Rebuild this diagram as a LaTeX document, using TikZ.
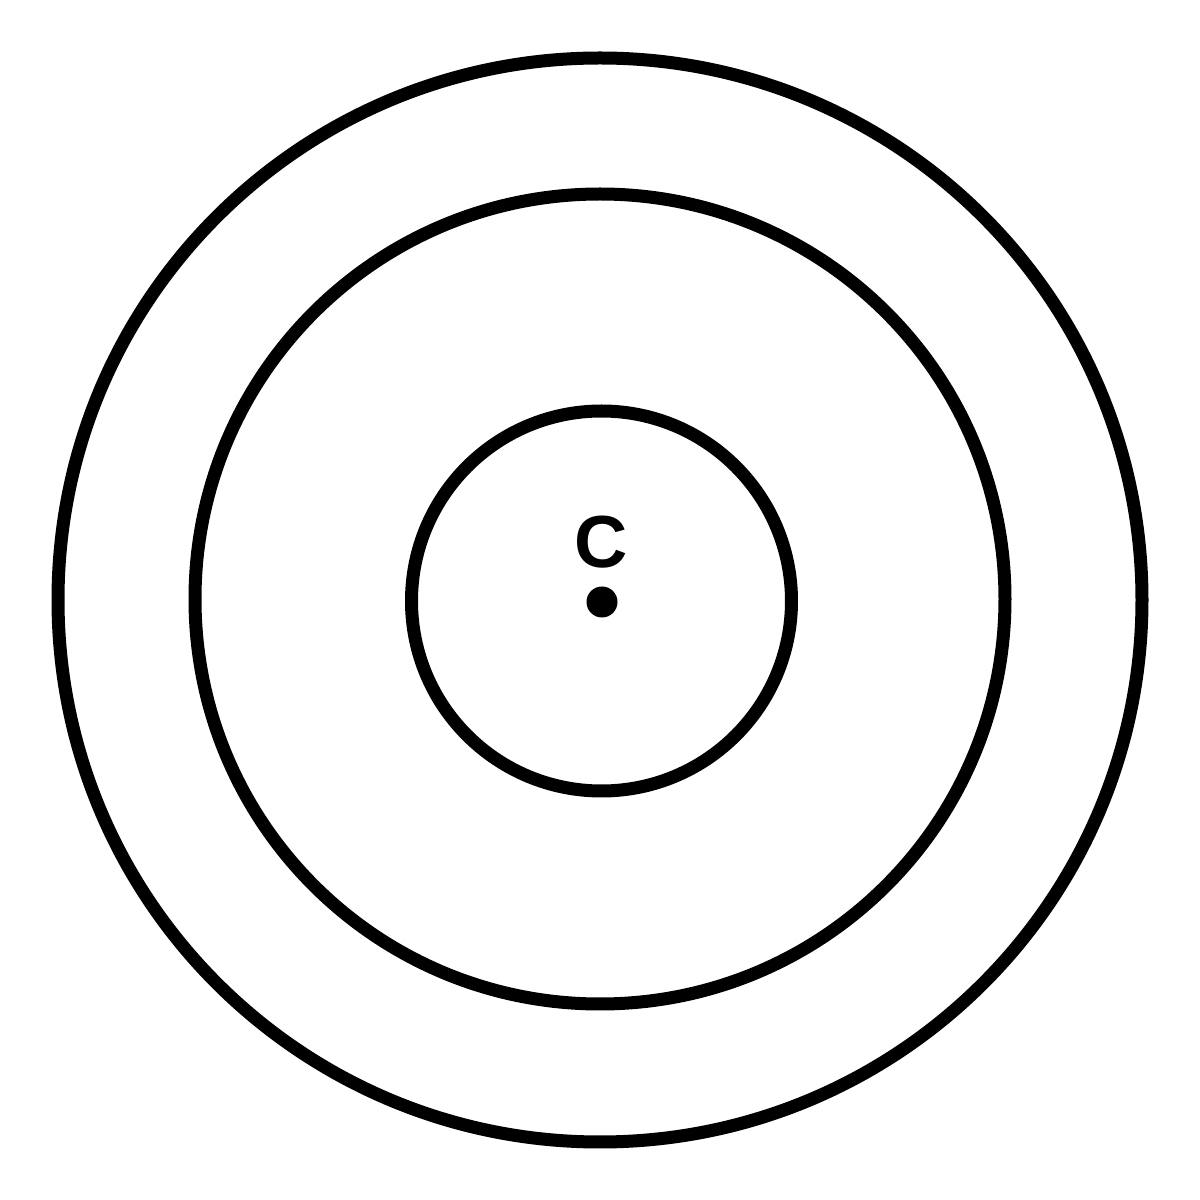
\documentclass[tikz,border=0pt]{standalone}
\usepackage{fontspec}
\setmainfont{Liberation Sans}
\begin{document}
\begin{tikzpicture}[x=1cm,y=1cm,
  ring/.style={draw=black, line width=0.13cm},
  centerdot/.style={circle, fill=black, inner sep=0pt, minimum size=0.31cm},
  lbl/.style={font=\bfseries\fontsize{21}{23}\selectfont, inner sep=0pt}]
\useasboundingbox (0,0) rectangle (12,12);
\fill[white] (0,0) rectangle (12,12);
\coordinate (c1) at (6.00,6.00);
\coordinate (c2) at (6.00,6.01);
\coordinate (c3) at (6.015,5.99);
\draw[ring] (c1) circle (5.42);
\draw[ring] (c2) circle (4.05);
\draw[ring] (c3) circle (1.90);
\node[centerdot] (dot) at (6.02,5.98) {};
\node[lbl] (C) at (6.01,6.58) {C};
\end{tikzpicture}
\end{document}
